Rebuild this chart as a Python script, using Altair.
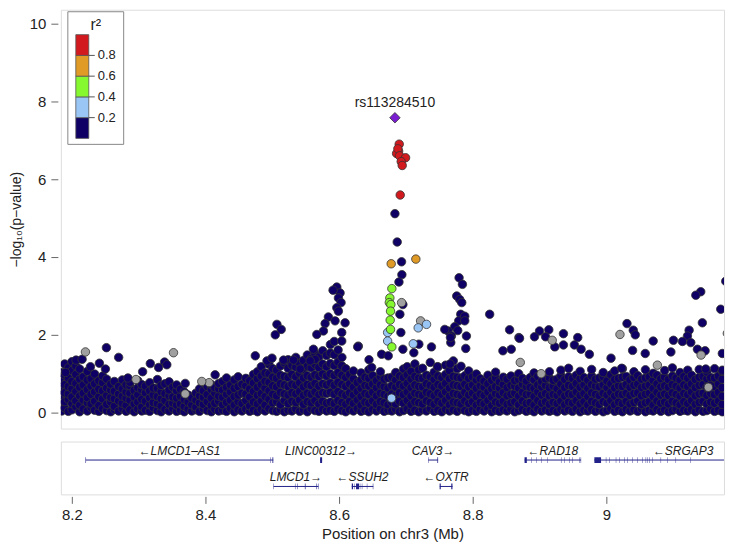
import altair as alt
import pandas as pd

X_DOMAIN = [8.1836, 9.1761]
Y_DOMAIN = [-0.423, 10.36]

# ---- dense band of weak-LD SNPs (position Mb, list of -log10 p) ----
band = [
    (8.1850, [0.03, 0.19, 0.44, 0.58, 0.83, 1.02]),
    (8.1893, [0.11, 0.27, 0.50, 0.71, 0.96, 1.24]),
    (8.1948, [0.02, 0.33, 0.47, 0.66, 0.88, 1.14]),
    (8.2002, [0.06, 0.22, 0.39, 0.61, 0.79, 1.07, 1.30]),
    (8.2061, [0.14, 0.29, 0.53, 0.74, 0.97, 1.19]),
    (8.2118, [0.01, 0.18, 0.42, 0.64, 0.85, 1.11]),
    (8.2171, [0.08, 0.31, 0.49, 0.70, 0.91]),
    (8.2233, [0.03, 0.24, 0.37, 0.58, 0.82, 1.05]),
    (8.2289, [0.12, 0.21, 0.46, 0.67, 0.86]),
    (8.2342, [0.05, 0.28, 0.52, 0.73, 0.98]),
    (8.2405, [0.02, 0.17, 0.40, 0.59, 0.81]),
    (8.2461, [0.09, 0.34, 0.55, 0.76, 0.93]),
    (8.2522, [0.04, 0.20, 0.43, 0.62, 0.85]),
    (8.2583, [0.01, 0.26, 0.38, 0.57, 0.72]),
    (8.2637, [0.07, 0.15, 0.35, 0.54, 0.79]),
    (8.2701, [0.03, 0.29, 0.47, 0.66]),
    (8.2756, [0.10, 0.23, 0.41, 0.60, 0.83]),
    (8.2813, [0.02, 0.18, 0.36, 0.52, 0.70]),
    (8.2870, [0.06, 0.31, 0.49, 0.68, 0.77]),
    (8.2934, [0.01, 0.21, 0.39, 0.56]),
    (8.2988, [0.08, 0.26, 0.45, 0.63, 0.81]),
    (8.3047, [0.03, 0.14, 0.33, 0.58, 0.71]),
    (8.3102, [0.05, 0.28, 0.50, 0.67]),
    (8.3166, [0.02, 0.19, 0.37, 0.55, 0.76]),
    (8.3219, [0.11, 0.25, 0.44, 0.62]),
    (8.3281, [0.04, 0.22, 0.40, 0.61, 0.84]),
    (8.3337, [0.01, 0.16, 0.35, 0.53, 0.69]),
    (8.3395, [0.07, 0.30, 0.48, 0.73]),
    (8.3456, [0.03, 0.20, 0.42, 0.57, 0.78]),
    (8.3512, [0.09, 0.24, 0.39, 0.64]),
    (8.3569, [0.02, 0.18, 0.36, 0.55, 0.70]),
    (8.3627, [0.05, 0.21, 0.41, 0.59]),
    (8.3683, [0.01, 0.15, 0.33, 0.52]),
    (8.3741, [0.08, 0.26, 0.44]),
    (8.3796, [0.03, 0.19, 0.37]),
    (8.3858, [0.06, 0.13, 0.31, 0.49]),
    (8.3912, [0.02, 0.24, 0.42, 0.60]),
    (8.3969, [0.09, 0.20, 0.38, 0.55]),
    (8.4027, [0.04, 0.27, 0.45, 0.66]),
    (8.4088, [0.01, 0.17, 0.36, 0.58, 0.71]),
    (8.4141, [0.07, 0.23, 0.49, 0.63]),
    (8.4199, [0.03, 0.28, 0.41, 0.60, 0.74]),
    (8.4258, [0.05, 0.19, 0.38, 0.57, 0.79]),
    (8.4316, [0.02, 0.25, 0.46, 0.64, 0.88]),
    (8.4373, [0.10, 0.31, 0.52, 0.70]),
    (8.4431, [0.01, 0.18, 0.40, 0.61, 0.83]),
    (8.4490, [0.06, 0.27, 0.44, 0.66, 0.91]),
    (8.4547, [0.03, 0.22, 0.49, 0.72]),
    (8.4605, [0.08, 0.30, 0.47, 0.68, 0.87]),
    (8.4662, [0.02, 0.16, 0.39, 0.60, 0.81]),
    (8.4719, [0.05, 0.26, 0.53, 0.75, 0.97]),
    (8.4778, [0.01, 0.21, 0.43, 0.64, 0.86, 1.04]),
    (8.4836, [0.07, 0.29, 0.48, 0.71, 0.93, 1.17]),
    (8.4893, [0.03, 0.18, 0.40, 0.62, 0.80, 1.01]),
    (8.4951, [0.09, 0.33, 0.55, 0.77, 0.99, 1.23]),
    (8.5008, [0.04, 0.24, 0.46, 0.68, 0.90, 1.12]),
    (8.5066, [0.02, 0.27, 0.42, 0.65, 0.87, 1.08]),
    (8.5123, [0.06, 0.19, 0.51, 0.73, 0.95, 1.19]),
    (8.5181, [0.01, 0.30, 0.47, 0.70, 0.92, 1.27]),
    (8.5238, [0.05, 0.22, 0.44, 0.66, 0.89, 1.13, 1.35]),
    (8.5295, [0.03, 0.28, 0.50, 0.72, 0.97, 1.21]),
    (8.5353, [0.08, 0.25, 0.47, 0.69, 0.91, 1.16, 1.41]),
    (8.5410, [0.02, 0.31, 0.53, 0.76, 1.00, 1.26]),
    (8.5468, [0.06, 0.20, 0.43, 0.65, 0.88, 1.10, 1.33]),
    (8.5525, [0.01, 0.27, 0.49, 0.71, 0.94, 1.18, 1.47]),
    (8.5583, [0.09, 0.24, 0.46, 0.68, 0.90, 1.14, 1.38]),
    (8.5640, [0.04, 0.30, 0.52, 0.74, 0.96, 1.23, 1.51]),
    (8.5698, [0.02, 0.21, 0.45, 0.67, 0.92, 1.15, 1.42]),
    (8.5755, [0.07, 0.28, 0.50, 0.73, 0.98, 1.24, 1.58]),
    (8.5813, [0.03, 0.23, 0.48, 0.70, 0.93, 1.17, 1.46]),
    (8.5870, [0.05, 0.26, 0.51, 0.75, 0.99, 1.25, 1.52, 1.74]),
    (8.5928, [0.02, 0.22, 0.46, 0.69, 0.94, 1.20, 1.48, 1.82]),
    (8.5985, [0.08, 0.30, 0.53, 0.77, 1.02, 1.29, 1.60]),
    (8.6043, [0.04, 0.25, 0.47, 0.71, 0.95, 1.19, 1.41]),
    (8.6100, [0.01, 0.20, 0.43, 0.66, 0.89, 1.12]),
    (8.6158, [0.06, 0.28, 0.50, 0.73, 0.97]),
    (8.6215, [0.03, 0.22, 0.44, 0.64, 0.86, 1.06]),
    (8.6273, [0.09, 0.31, 0.53, 0.76]),
    (8.6330, [0.02, 0.18, 0.40, 0.61, 0.83, 1.01]),
    (8.6388, [0.05, 0.26, 0.48, 0.69, 0.90]),
    (8.6445, [0.01, 0.23, 0.45, 0.67, 0.87, 1.09]),
    (8.6503, [0.07, 0.29, 0.51, 0.72, 0.94]),
    (8.6560, [0.03, 0.20, 0.42, 0.63, 0.81]),
    (8.6618, [0.08, 0.27, 0.49, 0.70, 0.92, 1.04]),
    (8.6675, [0.02, 0.24, 0.46, 0.66, 0.85]),
    (8.6733, [0.05, 0.19, 0.41, 0.62, 0.88]),
    (8.6790, [0.03, 0.25, 0.47, 0.68, 0.90]),
    (8.6848, [0.07, 0.21, 0.43, 0.64, 0.83, 1.02]),
    (8.6905, [0.01, 0.28, 0.50, 0.71, 0.93]),
    (8.6963, [0.04, 0.23, 0.45, 0.67, 0.89, 1.11]),
    (8.7020, [0.08, 0.30, 0.52, 0.74, 0.96, 1.17]),
    (8.7078, [0.02, 0.19, 0.41, 0.63, 0.85, 1.05]),
    (8.7135, [0.05, 0.27, 0.49, 0.70, 0.92, 1.24]),
    (8.7193, [0.01, 0.24, 0.46, 0.66, 0.88, 1.09]),
    (8.7250, [0.06, 0.21, 0.43, 0.65, 0.87, 1.13]),
    (8.7308, [0.03, 0.29, 0.51, 0.73, 0.95]),
    (8.7365, [0.09, 0.25, 0.47, 0.69, 0.91, 1.28]),
    (8.7423, [0.02, 0.20, 0.42, 0.64, 0.84, 1.03]),
    (8.7480, [0.05, 0.28, 0.50, 0.71, 0.93, 1.16]),
    (8.7538, [0.01, 0.23, 0.45, 0.67, 0.89]),
    (8.7595, [0.07, 0.30, 0.52, 0.74, 0.97, 1.21]),
    (8.7653, [0.03, 0.19, 0.41, 0.62, 0.86, 1.07]),
    (8.7710, [0.06, 0.26, 0.48, 0.70, 0.92, 1.32]),
    (8.7768, [0.02, 0.24, 0.46, 0.68, 0.90, 1.12]),
    (8.7825, [0.08, 0.21, 0.43, 0.66, 0.88, 1.18]),
    (8.7883, [0.04, 0.29, 0.51, 0.72, 0.94]),
    (8.7940, [0.01, 0.22, 0.44, 0.65, 0.87, 1.06]),
    (8.7998, [0.05, 0.27, 0.49, 0.70, 0.91]),
    (8.8055, [0.02, 0.18, 0.40, 0.61, 0.83, 0.98]),
    (8.8113, [0.07, 0.25, 0.47, 0.68, 0.86]),
    (8.8170, [0.03, 0.21, 0.43, 0.64, 0.80]),
    (8.8228, [0.09, 0.30, 0.52, 0.73, 0.95]),
    (8.8285, [0.01, 0.17, 0.39, 0.60, 0.82]),
    (8.8343, [0.05, 0.26, 0.48, 0.66, 0.88, 1.03]),
    (8.8400, [0.02, 0.23, 0.44, 0.62, 0.78]),
    (8.8458, [0.06, 0.28, 0.50, 0.71, 0.90]),
    (8.8515, [0.03, 0.20, 0.42, 0.63, 0.85]),
    (8.8573, [0.08, 0.24, 0.46, 0.69, 0.93]),
    (8.8630, [0.01, 0.27, 0.49, 0.67, 0.81]),
    (8.8688, [0.04, 0.19, 0.41, 0.62, 0.84, 0.99]),
    (8.8745, [0.07, 0.29, 0.51, 0.72, 0.87]),
    (8.8803, [0.02, 0.22, 0.45, 0.66, 0.80]),
    (8.8860, [0.05, 0.25, 0.47, 0.64, 0.89]),
    (8.8918, [0.01, 0.18, 0.40, 0.61, 0.83, 1.01]),
    (8.8975, [0.08, 0.30, 0.52, 0.70, 0.92]),
    (8.9033, [0.03, 0.23, 0.44, 0.65, 0.79]),
    (8.9090, [0.06, 0.27, 0.48, 0.69, 0.86]),
    (8.9148, [0.02, 0.20, 0.42, 0.63, 0.88, 1.04]),
    (8.9205, [0.05, 0.26, 0.46, 0.67, 0.82]),
    (8.9263, [0.01, 0.22, 0.43, 0.60, 0.85]),
    (8.9320, [0.07, 0.29, 0.50, 0.72, 0.94, 1.08]),
    (8.9378, [0.03, 0.19, 0.41, 0.63, 0.84]),
    (8.9435, [0.06, 0.26, 0.47, 0.69, 0.91, 1.13]),
    (8.9493, [0.02, 0.23, 0.45, 0.66, 0.87]),
    (8.9550, [0.08, 0.30, 0.52, 0.74, 0.95]),
    (8.9608, [0.01, 0.21, 0.43, 0.64, 0.86, 1.05]),
    (8.9665, [0.05, 0.27, 0.48, 0.70, 0.89]),
    (8.9723, [0.03, 0.18, 0.40, 0.61, 0.82]),
    (8.9780, [0.07, 0.28, 0.50, 0.71, 0.93, 1.10]),
    (8.9838, [0.02, 0.24, 0.46, 0.67, 0.85]),
    (8.9895, [0.06, 0.20, 0.42, 0.65, 0.88]),
    (8.9953, [0.01, 0.27, 0.49, 0.70, 0.91, 1.02]),
    (9.0010, [0.04, 0.23, 0.44, 0.63, 0.80]),
    (9.0068, [0.09, 0.30, 0.51, 0.73, 0.96]),
    (9.0125, [0.02, 0.19, 0.41, 0.62, 0.84, 1.06]),
    (9.0183, [0.05, 0.26, 0.47, 0.68, 0.87]),
    (9.0240, [0.01, 0.22, 0.45, 0.66, 0.90, 1.12]),
    (9.0298, [0.07, 0.28, 0.49, 0.71, 0.92]),
    (9.0355, [0.03, 0.21, 0.43, 0.64, 0.83]),
    (9.0413, [0.06, 0.25, 0.48, 0.69, 0.89, 1.04]),
    (9.0470, [0.02, 0.29, 0.50, 0.72, 0.94]),
    (9.0528, [0.08, 0.20, 0.42, 0.63, 0.85]),
    (9.0585, [0.01, 0.24, 0.46, 0.67, 0.88, 1.09]),
    (9.0643, [0.05, 0.27, 0.49, 0.70, 0.91]),
    (9.0700, [0.03, 0.18, 0.40, 0.61, 0.82, 1.00]),
    (9.0758, [0.07, 0.29, 0.51, 0.73, 0.95]),
    (9.0815, [0.02, 0.23, 0.44, 0.65, 0.86]),
    (9.0873, [0.06, 0.26, 0.47, 0.68, 0.90, 1.07]),
    (9.0930, [0.01, 0.21, 0.43, 0.64, 0.84]),
    (9.0988, [0.04, 0.28, 0.50, 0.71, 0.93, 1.14]),
    (9.1045, [0.08, 0.24, 0.46, 0.67, 0.88]),
    (9.1103, [0.02, 0.19, 0.41, 0.62, 0.83, 1.02]),
    (9.1160, [0.05, 0.27, 0.48, 0.70, 0.92]),
    (9.1218, [0.03, 0.22, 0.45, 0.66, 0.87, 1.08]),
    (9.1275, [0.07, 0.30, 0.52, 0.73, 0.95]),
    (9.1333, [0.01, 0.20, 0.42, 0.63, 0.84]),
    (9.1390, [0.06, 0.25, 0.47, 0.69, 0.90, 1.10]),
    (9.1448, [0.02, 0.28, 0.49, 0.71, 0.92]),
    (9.1505, [0.04, 0.21, 0.43, 0.64, 0.86, 1.03]),
    (9.1563, [0.08, 0.26, 0.48, 0.70, 0.89]),
    (9.1620, [0.02, 0.23, 0.45, 0.66, 0.88, 1.12]),
    (9.1678, [0.05, 0.29, 0.51, 0.72, 0.93]),
    (9.1735, [0.01, 0.20, 0.41, 0.63, 0.85, 1.05]),
]

# ---- scattered navy SNPs (r2 < 0.2) above the band ----
navy_pos = [8.2518, 8.2701, 8.2413, 8.2503, 8.2064, 8.2154, 8.1906, 8.3175, 8.3388, 8.3422,
            8.3060, 8.3299, 8.2840, 8.4145, 8.3697, 8.2279,
            8.5966, 8.6015, 8.5990, 8.6030, 8.5966, 8.5990, 8.5840, 8.5791, 8.5940, 8.6090,
            8.5766, 8.6040, 8.5667, 8.6040, 8.6288, 8.5616, 8.5642, 8.5567, 8.5070, 8.5134,
            8.5045, 8.6279, 8.6448, 8.6488, 8.6637, 8.6736, 8.5910, 8.4746, 8.4921, 8.4996,
            8.5169, 8.5318, 8.5418,
            8.6836, 8.6870, 8.6935, 8.6940, 8.6896, 8.6955, 8.6910, 8.6925, 8.6955,
            8.7796, 8.7846, 8.7761, 8.7806, 8.7836, 8.7821, 8.7791, 8.7881, 8.7731, 8.7776,
            8.8254, 8.8552, 8.8691, 8.9000, 8.9139, 8.8925, 8.9090, 8.9229, 8.7383, 8.7194,
            8.7119, 8.7631, 8.7682, 8.7672, 8.7906, 8.7896, 8.8452, 8.8577, 8.7473, 8.7661,
            8.7582, 8.7667, 8.7881, 8.8701,
            9.1787, 9.1413, 9.1339, 9.1712, 9.1437, 9.0309, 9.0403, 9.0433, 9.0701, 9.1004,
            9.1239, 9.1214, 9.1139, 9.1264, 9.1363, 9.1478, 9.1736, 9.0966, 8.9358, 8.9358,
            8.9572, 8.9522, 8.9622, 8.9746, 9.0070, 9.0393, 9.0582, 9.0229, 9.1736, 9.1488]
navy_p = [1.66, 1.41, 1.26, 1.11, 1.34, 1.36, 1.02, 1.25, 1.29, 1.22,
          1.04, 1.15, 0.88, 0.96, 0.74, 1.17,
          3.22, 3.07, 2.94, 2.82, 2.69, 2.60, 2.45, 2.28, 2.35, 2.30,
          2.09, 2.05, 2.00, 1.83, 1.70, 1.62, 1.36, 1.32, 2.26, 2.13,
          1.99, 1.68, 1.35, 1.15, 1.49, 1.45, 3.14, 1.45, 1.32, 1.39,
          1.34, 1.34, 1.11,
          5.11, 4.38, 3.87, 3.54, 3.35, 2.77, 2.52, 2.05, 1.62,
          3.46, 3.29, 2.99, 2.90, 2.82, 2.52, 2.35, 2.47, 2.20, 2.10,
          2.52, 2.12, 1.92, 2.09, 2.12, 1.94, 1.94, 1.68, 1.68, 1.75,
          1.53, 2.09, 1.96, 1.79, 1.96, 1.64, 1.58, 1.62, 1.17, 1.24,
          2.13, 1.92, 2.35, 1.90,
          3.37, 3.10, 3.01, 2.65, 2.30, 2.28, 2.11, 1.99, 1.83, 1.85,
          2.11, 1.96, 1.82, 1.79, 1.62, 1.58, 1.51, 1.55, 2.02, 1.73,
          1.92, 1.73, 1.62, 1.49, 1.39, 1.59, 1.51, 1.13, 1.08, 1.11]

# ---- SNPs with no LD information (grey) ----
gray_pos = [8.2204, 8.3522, 8.4055, 8.3945, 8.2960, 8.3697, 9.0204, 9.1811, 8.9190, 9.1418,
            9.0764, 8.7220, 8.6936, 8.8712, 9.1527, 8.9025]
gray_p = [1.55, 1.53, 0.76, 0.79, 0.84, 0.47, 2.00, 2.03, 1.85, 1.47,
          1.21, 2.35, 2.82, 1.28, 0.64, 0.99]

# ---- r2 0.2-0.4 (light blue) ----
lblue_pos = [8.7309, 8.7184, 8.7110, 8.6785, 8.6727, 8.6727]
lblue_p = [2.26, 2.17, 1.76, 0.36, 2.05, 1.83]

# ---- r2 0.4-0.6 (green) ----
green_pos = [8.6790, 8.6760, 8.6752, 8.6775, 8.6770, 8.6765, 8.6770, 8.6790]
green_p = [3.18, 2.94, 2.82, 2.77, 2.60, 2.37, 2.13, 1.68]

# ---- r2 0.6-0.8 (orange) ----
orange_pos = [8.6780, 8.7149]
orange_p = [3.82, 3.94]

# ---- r2 >= 0.8 (red) ----
red_pos = [8.6900, 8.6891, 8.6861, 8.6880, 8.6905, 8.6995, 8.6930, 8.6945, 8.6915]
red_p = [6.90, 6.72, 6.66, 6.78, 6.60, 6.55, 6.45, 6.35, 5.59]

# ---- index SNP ----
lead_name = "rs113284510"
lead_pos = 8.6836
lead_p = 7.58

# ---- legend bins ----
r2_lo = [0.0, 0.2, 0.4, 0.6, 0.8]
r2_hi = [0.2, 0.4, 0.6, 0.8, 1.0]
r2_colors = ["#0E0064", "#9AC6F5", "#86F830", "#E09A26", "#D2191E"]
r2_ticks = [0.2, 0.4, 0.6, 0.8]
GRAY = "#A0A0A0"
LEAD_COLOR = "#7A1ED2"

# ---- genes ----
gene_names = ["LMCD1-AS1", "LINC00312", "LMCD1", "SSUH2", "CAV3", "OXTR", "RAD18", "SRGAP3"]
gene_labels = ["\u2190LMCD1\u2013AS1", "LINC00312\u2192", "LMCD1\u2192", "\u2190SSUH2",
               "CAV3\u2192", "\u2190OXTR", "\u2190RAD18", "\u2190SRGAP3"]
gene_start = [8.2209, 8.5716, 8.5019, 8.6190, 8.7333, 8.7507, 8.8776, 8.9821]
gene_end = [8.5015, 8.5746, 8.5691, 8.6512, 8.7482, 8.7697, 8.9622, 9.2477]
gene_row = [1, 1, 2, 2, 1, 2, 1, 1]

exon_start = [8.2205, 8.4975, 8.5003, 8.5716,
              8.5019, 8.5340, 8.5374, 8.5488, 8.5662, 8.5684,
              8.6190, 8.6229, 8.6254, 8.6311, 8.6341, 8.6416, 8.6505,
              8.7333, 8.7467, 8.7475,
              8.7505, 8.7679,
              8.8776, 8.8873, 8.8948, 8.9022, 8.9121, 8.9321, 8.9370, 8.9445, 8.9494, 8.9594, 8.9616,
              8.9821, 8.9993, 9.0042, 9.0142, 9.0191, 9.0266, 9.0315, 9.0390, 9.0464, 9.0539,
              9.0589, 9.0613, 9.0639, 9.0688, 9.0813, 9.0912, 9.1037, 9.1261]
exon_end = [8.2213, 8.4981, 8.5015, 8.5746,
            8.5025, 8.5346, 8.5381, 8.5498, 8.5670, 8.5691,
            8.6209, 8.6235, 8.6299, 8.6317, 8.6347, 8.6422, 8.6512,
            8.7339, 8.7473, 8.7482,
            8.7522, 8.7697,
            8.8810, 8.8879, 8.8954, 8.9028, 8.9127, 8.9327, 8.9376, 8.9451, 8.9500, 8.9600, 8.9622,
            8.9921, 8.9999, 9.0048, 9.0148, 9.0197, 9.0272, 9.0321, 9.0396, 9.0470, 9.0545,
            9.0595, 9.0619, 9.0645, 9.0694, 9.0819, 9.0918, 9.1043, 9.1267]
exon_row = [1, 1, 1, 1,
            2, 2, 2, 2, 2, 2,
            2, 2, 2, 2, 2, 2, 2,
            1, 1, 1,
            2, 2,
            1, 1, 1, 1, 1, 1, 1, 1, 1, 1, 1,
            1, 1, 1, 1, 1, 1, 1, 1, 1, 1,
            1, 1, 1, 1, 1, 1, 1, 1]

# ------------------------------------------------------------------
rows = []
for pos, vals in band:
    for v in vals:
        rows.append({"pos": pos, "logp": v, "cls": "b0"})
for p, v in zip(navy_pos, navy_p):
    rows.append({"pos": p, "logp": v, "cls": "b0"})
for p, v in zip(gray_pos, gray_p):
    rows.append({"pos": p, "logp": v, "cls": "na"})
for p, v in zip(lblue_pos, lblue_p):
    rows.append({"pos": p, "logp": v, "cls": "b1"})
for p, v in zip(green_pos, green_p):
    rows.append({"pos": p, "logp": v, "cls": "b2"})
for p, v in zip(orange_pos, orange_p):
    rows.append({"pos": p, "logp": v, "cls": "b3"})
for p, v in zip(red_pos, red_p):
    rows.append({"pos": p, "logp": v, "cls": "b4"})
snps = pd.DataFrame(rows)

lead_df = pd.DataFrame({"pos": [lead_pos], "logp": [lead_p], "name": [lead_name]})

FONT = "Liberation Sans"
xs = alt.Scale(domain=X_DOMAIN, nice=False, zero=False)
ys = alt.Scale(domain=Y_DOMAIN, nice=False, zero=False)

points = alt.Chart(snps).mark_circle(size=72, stroke="#333333", strokeWidth=0.8, opacity=1, clip=True).encode(
    x=alt.X("pos:Q", scale=xs, axis=None),
    y=alt.Y("logp:Q", scale=ys, axis=alt.Axis(
        values=[0, 2, 4, 6, 8, 10], title="\u2212log\u2081\u2080(p\u2212value)",
        grid=False, domain=False, tickSize=7, offset=3, tickColor="#666666",
        labelPadding=5, labelFontSize=15, labelColor="#222222", labelFont=FONT,
        titleFontSize=14, titleFontWeight="normal", titleColor="#222222", titleFont=FONT,
        titlePadding=6)),
    fill=alt.Fill("cls:N", legend=None, scale=alt.Scale(
        domain=["b0", "na", "b1", "b2", "b3", "b4"],
        range=[r2_colors[0], GRAY, r2_colors[1], r2_colors[2], r2_colors[3], r2_colors[4]])),
)

lead = alt.Chart(lead_df).mark_point(shape="diamond", filled=True, size=110, fill=LEAD_COLOR,
                                     stroke="#333333", strokeWidth=0.8, opacity=1).encode(
    x=alt.X("pos:Q", scale=xs, axis=None),
    y=alt.Y("logp:Q", scale=ys, axis=None),
)
lead_text = alt.Chart(lead_df).mark_text(dy=-15, fontSize=14, font=FONT, color="#222222").encode(
    x=alt.X("pos:Q", scale=xs, axis=None),
    y=alt.Y("logp:Q", scale=ys, axis=None),
    text="name:N",
)

# legend drawn inside the plot panel (pixel scales)
leg_df = pd.DataFrame({"lo": r2_lo, "hi": r2_hi, "col": r2_colors})
tick_df = pd.DataFrame({"v": r2_ticks, "lab": [f"{t:.1f}" for t in r2_ticks]})
leg_y = alt.Scale(domain=[0, 1], range=[129, 25])

leg_box = alt.Chart(pd.DataFrame({"a": [0]})).mark_rect(fill="white", stroke="#888888", strokeWidth=1).encode(
    x=alt.value(7), x2=alt.value(63), y=alt.value(2), y2=alt.value(135))
leg_rect = alt.Chart(leg_df).mark_rect(stroke="#555555", strokeWidth=0.8).encode(
    x=alt.value(15), x2=alt.value(28),
    y=alt.Y("lo:Q", scale=leg_y, axis=None), y2="hi:Q",
    fill=alt.Fill("col:N", scale=None))
leg_ticks = alt.Chart(tick_df).mark_rule(color="#555555", strokeWidth=1).encode(
    x=alt.value(28), x2=alt.value(34), y=alt.Y("v:Q", scale=leg_y, axis=None))
leg_labels = alt.Chart(tick_df).mark_text(align="left", fontSize=13, font=FONT, color="#222222").encode(
    x=alt.value(37), y=alt.Y("v:Q", scale=leg_y, axis=None), text="lab:N")
leg_title = alt.Chart(pd.DataFrame({"t": ["r\u00b2"]})).mark_text(fontSize=16, font=FONT, color="#222222").encode(
    x=alt.value(35), y=alt.value(15), text="t:N")

scatter = alt.layer(points, lead, lead_text, leg_box, leg_rect, leg_ticks, leg_labels, leg_title).resolve_scale(
    y="independent").properties(width=665, height=420)

# gene track
genes = pd.DataFrame({"name": gene_names, "label": gene_labels, "start": gene_start, "end": gene_end,
                      "row": gene_row})
genes["mid"] = (genes["start"] + genes["end"]) / 2
genes["lab_y"] = genes["row"] - 0.34
exons = pd.DataFrame({"s": exon_start, "e": exon_end, "row": exon_row})
exons["top"] = exons["row"] - 0.11
exons["bot"] = exons["row"] + 0.11

gx = alt.Scale(domain=X_DOMAIN, nice=False, zero=False)
gy = alt.Scale(domain=[0.3, 2.3], reverse=True, nice=False, zero=False)
GENE_COLOR = "#22228A"

gene_lines = alt.Chart(genes).mark_rule(color=GENE_COLOR, strokeWidth=1, clip=True).encode(
    x=alt.X("start:Q", scale=gx, axis=alt.Axis(
        values=[8.2, 8.4, 8.6, 8.8, 9.0], format="~g", title="Position on chr3 (Mb)",
        grid=False, domain=False, tickSize=7, offset=2, tickColor="#666666",
        labelPadding=4, labelFontSize=15, labelColor="#222222", labelFont=FONT,
        titleFontSize=15, titleFontWeight="normal", titleColor="#222222", titleFont=FONT,
        titlePadding=4)),
    x2="end:Q",
    y=alt.Y("row:Q", scale=gy, axis=None),
)
exon_marks = alt.Chart(exons).mark_rect(color=GENE_COLOR, clip=True).encode(
    x=alt.X("s:Q", scale=gx), x2="e:Q",
    y=alt.Y("top:Q", scale=gy, axis=None), y2="bot:Q",
)
gene_text = alt.Chart(genes).mark_text(fontSize=12, fontStyle="italic", font=FONT, color="#222222",
                                       clip=True).encode(
    x=alt.X("mid:Q", scale=gx), y=alt.Y("lab_y:Q", scale=gy, axis=None), text="label:N")

gene_panel = alt.layer(gene_lines, exon_marks, gene_text).properties(width=665, height=53)

chart = alt.vconcat(scatter, gene_panel, spacing=11).properties(
    padding={"left": 0, "top": 0, "right": 0, "bottom": 0}
).configure_view(stroke="#8A8A8A", strokeWidth=1).configure(background="white")

chart.save("out.html", embed_options={"renderer": "svg", "actions": False})
